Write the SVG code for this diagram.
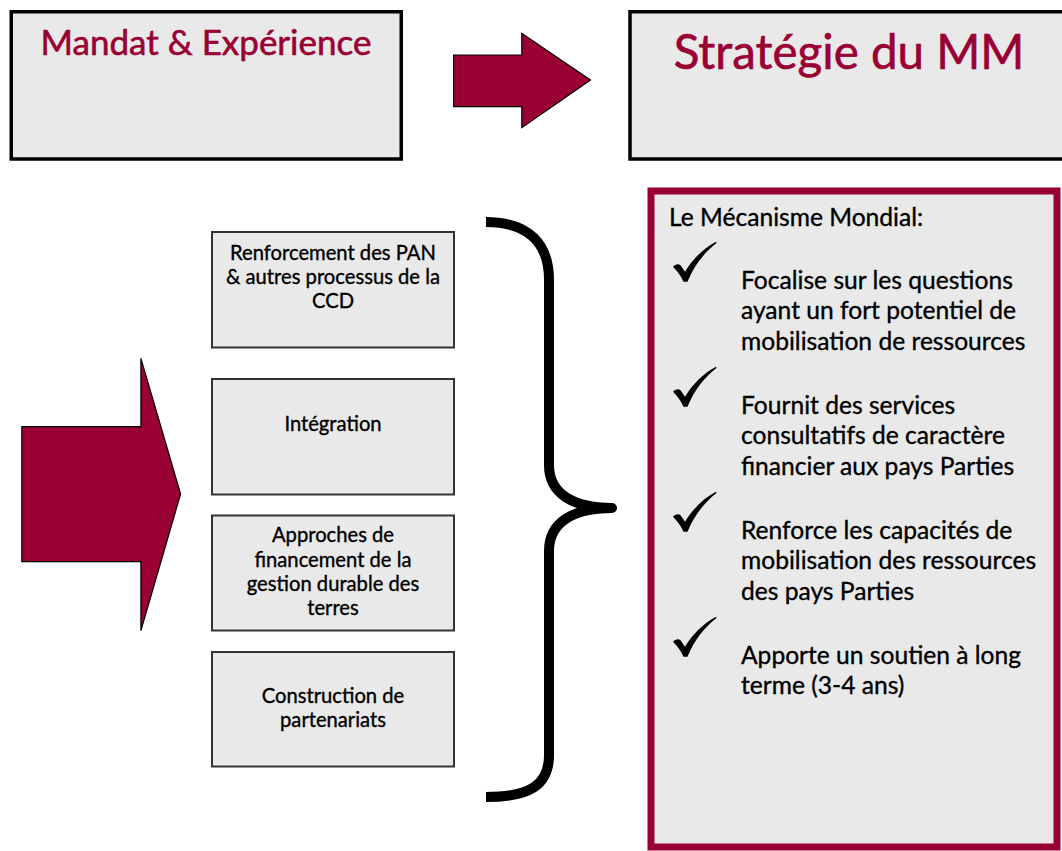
<svg xmlns="http://www.w3.org/2000/svg" width="1062" height="851" viewBox="0 0 1062 851">
<style>
.big{fill:#e9e9e9;stroke:#000;stroke-width:3.5}
.small{fill:#e9e9e9;stroke:#333;stroke-width:2}
.title{font-family:Lato,"Liberation Sans",sans-serif;fill:#990033;stroke:#990033;stroke-width:0.6;text-anchor:middle}
.lbl{font-family:Lato,"Liberation Sans",sans-serif;font-size:20.2px;fill:#000;stroke:#000;stroke-width:0.35;text-anchor:middle}
.bul{font-family:Lato,"Liberation Sans",sans-serif;font-size:24.6px;fill:#000;stroke:#000;stroke-width:0.35}
.arrow{fill:#990033;stroke:#000;stroke-width:1.2;stroke-linejoin:miter}
.chk{fill:#000}
</style>
<defs>
<path id="check" d="M0,25 C2,22.5 5.5,21.5 7.5,23.5 L12,30 C20,17 30,7 43,0 L43.5,1.2 C31,11 21,24 14.5,40 L10.5,40 C8,34 4,29 0,25 Z"/>
</defs>
<rect width="1062" height="851" fill="#fff"/>

<g id="node-mandat">
<rect class="big" x="11.25" y="11.75" width="390" height="147.25"/>
<text class="title" x="206" y="55" font-size="35">Mandat &amp; Expérience</text>
</g>

<g id="node-strategie">
<rect class="big" x="630" y="11.75" width="460" height="147.25"/>
<text class="title" x="849" y="69" font-size="47.5">Stratégie du MM</text>
</g>

<g id="node-renforcement">
<rect class="small" x="212" y="232" width="242" height="115.5"/>
<text class="lbl" x="333" y="260">Renforcement des PAN</text>
<text class="lbl" x="333" y="284.3">&amp; autres processus de la</text>
<text class="lbl" x="333" y="308.3">CCD</text>
</g>

<g id="node-integration">
<rect class="small" x="212" y="379" width="242" height="115.5"/>
<text class="lbl" x="333" y="430.7">Intégration</text>
</g>

<g id="node-approches">
<rect class="small" x="212" y="515.5" width="242" height="115"/>
<text class="lbl" x="333" y="542.3">Approches de</text>
<text class="lbl" x="333" y="566.7">financement de la</text>
<text class="lbl" x="333" y="590.7">gestion durable des</text>
<text class="lbl" x="333" y="615">terres</text>
</g>

<g id="node-partenariats">
<rect class="small" x="212" y="652" width="242" height="114.5"/>
<text class="lbl" x="333" y="703.3">Construction de</text>
<text class="lbl" x="333" y="726.7">partenariats</text>
</g>

<g id="node-mm">
<rect x="651" y="191" width="406" height="656" fill="#e9e9e9" stroke="#990033" stroke-width="7"/>
<text class="bul" x="669" y="225.7">Le Mécanisme Mondial:</text>
<use class="chk" href="#check" x="673" y="241.7"/>
<use class="chk" href="#check" x="673" y="366.7"/>
<use class="chk" href="#check" x="673" y="491.7"/>
<use class="chk" href="#check" x="673" y="616.7"/>
<text class="bul" x="741" y="288.5">Focalise sur les questions</text>
<text class="bul" x="741" y="319">ayant un fort potentiel de</text>
<text class="bul" x="741" y="349.5">mobilisation de ressources</text>
<text class="bul" x="741" y="413.5">Fournit des services</text>
<text class="bul" x="741" y="444">consultatifs de caractère</text>
<text class="bul" x="741" y="474.5">financier aux pays Parties</text>
<text class="bul" x="741" y="538.5">Renforce les capacités de</text>
<text class="bul" x="741" y="569">mobilisation des ressources</text>
<text class="bul" x="741" y="600">des pays Parties</text>
<text class="bul" x="741" y="663.5">Apporte un soutien à long</text>
<text class="bul" x="741" y="694">terme (3-4 ans)</text>
</g>

<g id="connectors">
<polygon class="arrow" points="453.6,55 521.8,55 521.8,33.3 590.5,80 521.8,127.7 521.8,106.7 453.6,106.7"/>
<polygon class="arrow" points="21.8,426.7 140.9,426.7 140.9,358.3 180.6,494 140.9,630.7 140.9,561.7 21.8,561.7"/>
<path d="M486,222 C530,222 549,245 549,280 L549,465 C549,493 572,508 612,508 C572,508 549,523 549,551 L549,755 C549,785 530,797 486,797" fill="none" stroke="#000" stroke-width="10" stroke-linejoin="round"/>
</g>
</svg>
